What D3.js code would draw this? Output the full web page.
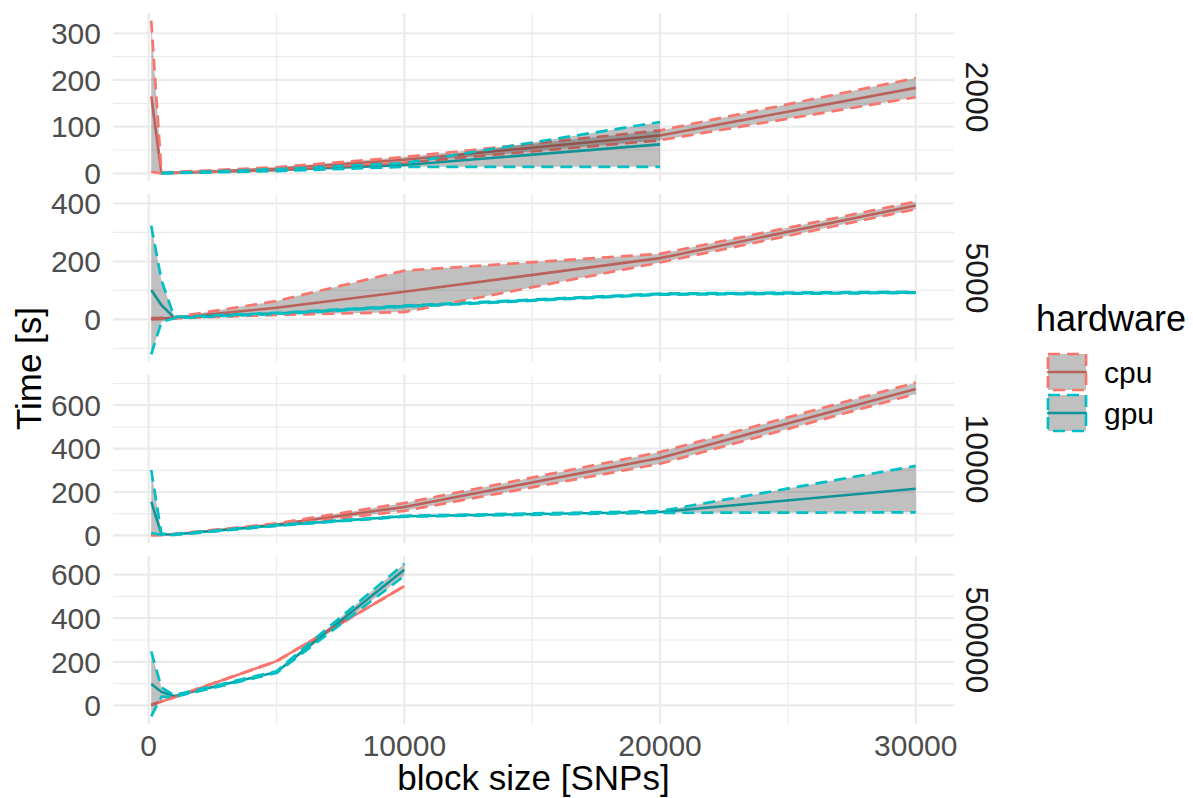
<!DOCTYPE html>
<html><head><meta charset="utf-8">
<script src="https://cdn.jsdelivr.net/npm/d3@7"></script>
<style>body{margin:0;background:#fff} svg{display:block} text{font-family:"Liberation Sans",Arial,Helvetica,sans-serif}</style>
</head><body>
<svg id="chart" width="1193" height="798"></svg>
<script>
// ---------------- data ----------------
const panelLabels = ["2000", "5000", "10000", "500000"];
const hardwareLevels = ["cpu", "gpu"];
const hwColors = ["#F8766D", "#00BFC4"];

const xTicks = [0, 10000, 20000, 30000];
const xMinorTicks = [5000, 15000, 25000];
const yTicks2000 = [0, 100, 200, 300];
const yTicks5000 = [0, 200, 400];
const yTicks10000 = [0, 200, 400, 600];
const yTicks500000 = [0, 200, 400, 600];

// panel 2000
const cpu2000_x    = [100, 500, 1000, 5000, 10000, 20000, 30000];
const cpu2000_mean = [165, 1, 2, 10, 29, 81, 183];
const cpu2000_lo   = [3, 0, 1, 7, 23, 71, 163];
const cpu2000_hi   = [327, 2, 3, 13, 35, 92, 204];
const gpu2000_x    = [500, 1000, 5000, 10000, 20000];
const gpu2000_mean = [0.5, 1, 7, 18, 62];
const gpu2000_lo   = [0, 0.5, 5, 14, 14];
const gpu2000_hi   = [1, 1.5, 9, 22, 110];

// panel 5000
const cpu5000_x    = [100, 500, 1000, 5000, 10000, 20000, 30000];
const cpu5000_mean = [2, 3, 5, 40, 95, 211, 393];
const cpu5000_lo   = [0, 1, 3, 15, 25, 196, 380];
const cpu5000_hi   = [4, 5, 7, 63, 168, 226, 406];
const gpu5000_x    = [100, 500, 1000, 5000, 10000, 20000, 30000];
const gpu5000_mean = [101, 49, 6, 20, 45, 87, 93];
const gpu5000_lo   = [-121, -9, 4, 18, 43, 85, 91];
const gpu5000_hi   = [323, 135, 8, 22, 47, 89, 95];

// panel 10000
const cpu10000_x    = [100, 500, 1000, 5000, 10000, 20000, 30000];
const cpu10000_mean = [2, 3, 5, 50, 131, 357, 675];
const cpu10000_lo   = [0, 1, 3, 45, 113, 330, 652];
const cpu10000_hi   = [4, 5, 7, 55, 149, 384, 704];
const gpu10000_x    = [100, 500, 1000, 5000, 10000, 20000, 30000];
const gpu10000_mean = [155, 5, 4, 46, 88, 108, 215];
const gpu10000_lo   = [10, 3, 2, 44, 86, 104, 106];
const gpu10000_hi   = [302, 7, 6, 48, 90, 112, 320];

// panel 500000
const cpu500000_x    = [100, 500, 1000, 5000, 10000];
const cpu500000_mean = [2, 18, 38, 203, 547];
const cpu500000_lo   = [2, 18, 38, 203, 547];
const cpu500000_hi   = [2, 18, 38, 203, 547];
const gpu500000_x    = [100, 500, 1000, 5000, 10000];
const gpu500000_mean = [98, 62, 43, 153, 622];
const gpu500000_lo   = [-50, 40, 39, 149, 594];
const gpu500000_hi   = [248, 82, 47, 157, 650];

// ---------------- build table ----------------
function series(xs, m, lo, hi) { return xs.map((x, i) => ({x: x, m: m[i], lo: lo[i], hi: hi[i]})); }
const panels = [
  {label: panelLabels[0], ticks: yTicks2000, s: [series(cpu2000_x, cpu2000_mean, cpu2000_lo, cpu2000_hi), series(gpu2000_x, gpu2000_mean, gpu2000_lo, gpu2000_hi)]},
  {label: panelLabels[1], ticks: yTicks5000, s: [series(cpu5000_x, cpu5000_mean, cpu5000_lo, cpu5000_hi), series(gpu5000_x, gpu5000_mean, gpu5000_lo, gpu5000_hi)]},
  {label: panelLabels[2], ticks: yTicks10000, s: [series(cpu10000_x, cpu10000_mean, cpu10000_lo, cpu10000_hi), series(gpu10000_x, gpu10000_mean, gpu10000_lo, gpu10000_hi)]},
  {label: panelLabels[3], ticks: yTicks500000, s: [series(cpu500000_x, cpu500000_mean, cpu500000_lo, cpu500000_hi), series(gpu500000_x, gpu500000_mean, gpu500000_lo, gpu500000_hi)]}
];

// ---------------- layout ----------------
const L = 113, R = 954, T0 = 13, PH = 168, GAP = 13;
const svg = d3.select("#chart");
const gridCol = "#EBEBEB";
const ribbonFill = "#333333", ribbonAlpha = 0.31;
const dash = "12,7";
const tickFont = 30, stripFont = 32, titleFont = 35;

function expand(ext) { const r = ext[1] - ext[0]; return [ext[0] - 0.05 * r, ext[1] + 0.05 * r]; }
const allX = panels.flatMap(p => p.s.flatMap(s => s.map(d => d.x)));
const x = d3.scaleLinear().domain(expand(d3.extent(allX))).range([L, R]);

const defs = svg.append("defs");

panels.forEach((p, i) => {
  const top = T0 + i * (PH + GAP), bot = top + PH;
  const vals = p.s.flatMap(s => s.flatMap(d => [d.lo, d.hi, d.m]));
  const y = d3.scaleLinear().domain(expand(d3.extent(vals))).range([bot, top]);
  const g = svg.append("g");
  defs.append("clipPath").attr("id", "clip" + i).append("rect")
    .attr("x", L).attr("y", top).attr("width", R - L).attr("height", PH);

  // minor grid
  const step = p.ticks[1] - p.ticks[0];
  const minorY = [p.ticks[0] - step / 2, ...p.ticks.map(t => t + step / 2)]
    .filter(v => v >= y.domain()[0] && v <= y.domain()[1]);
  g.selectAll(".ymin").data(minorY).enter().append("line")
    .attr("x1", L).attr("x2", R).attr("y1", d => y(d)).attr("y2", d => y(d))
    .attr("stroke", gridCol).attr("stroke-width", 1.2);
  g.selectAll(".xmin").data(xMinorTicks).enter().append("line")
    .attr("x1", d => x(d)).attr("x2", d => x(d)).attr("y1", top).attr("y2", bot)
    .attr("stroke", gridCol).attr("stroke-width", 1.2);
  // major grid
  g.selectAll(".ymaj").data(p.ticks).enter().append("line")
    .attr("x1", L).attr("x2", R).attr("y1", d => y(d)).attr("y2", d => y(d))
    .attr("stroke", gridCol).attr("stroke-width", 2.2);
  g.selectAll(".xmaj").data(xTicks).enter().append("line")
    .attr("x1", d => x(d)).attr("x2", d => x(d)).attr("y1", top).attr("y2", bot)
    .attr("stroke", gridCol).attr("stroke-width", 2.2);

  // y axis labels
  g.selectAll(".ylab").data(p.ticks).enter().append("text")
    .attr("x", 101).attr("y", d => y(d)).attr("dy", "0.36em")
    .attr("text-anchor", "end").attr("font-size", tickFont).attr("fill", "#4D4D4D")
    .text(d => d);

  // strip label
  const cy = (top + bot) / 2;
  g.append("text").attr("transform", `translate(966,${cy}) rotate(90)`)
    .attr("text-anchor", "middle").attr("font-size", stripFont).attr("fill", "#1A1A1A")
    .text(p.label);

  const pg = g.append("g").attr("clip-path", `url(#clip${i})`);
  const line = (acc) => d3.line().x(d => x(d.x)).y(d => y(acc(d)));
  // lines first (drawn under ribbons)
  p.s.forEach((s, k) => {
    pg.append("path").attr("d", line(d => d.m)(s)).attr("fill", "none")
      .attr("stroke", hwColors[k]).attr("stroke-width", 2.6);
  });
  // ribbons
  p.s.forEach((s, k) => {
    pg.append("path").attr("d", d3.area().x(d => x(d.x)).y0(d => y(d.lo)).y1(d => y(d.hi))(s))
      .attr("fill", ribbonFill).attr("fill-opacity", ribbonAlpha).attr("stroke", "none");
    ["hi", "lo"].forEach(key => {
      pg.append("path").attr("d", line(d => d[key])(s)).attr("fill", "none")
        .attr("stroke", hwColors[k]).attr("stroke-width", 2.7).attr("stroke-dasharray", dash);
    });
  });
});

// x axis labels
svg.selectAll(".xlab").data(xTicks).enter().append("text")
  .attr("x", d => x(d)).attr("y", 756).attr("text-anchor", "middle")
  .attr("font-size", tickFont).attr("fill", "#4D4D4D").text(d => d);

// axis titles
svg.append("text").attr("x", (L + R) / 2).attr("y", 790).attr("text-anchor", "middle")
  .attr("font-size", titleFont).attr("fill", "#000").text("block size [SNPs]");
svg.append("text").attr("transform", `translate(41,${(T0 + 4 * PH + 3 * GAP + T0) / 2}) rotate(-90)`)
  .attr("text-anchor", "middle").attr("font-size", titleFont).attr("fill", "#000").text("Time [s]");

// legend
const lg = svg.append("g");
lg.append("text").attr("x", 1036).attr("y", 331).attr("font-size", titleFont + 1).attr("fill", "#000").text("hardware");
hardwareLevels.forEach((h, k) => {
  const ky = 353 + k * 41;
  lg.append("line").attr("x1", 1047).attr("x2", 1087).attr("y1", ky + 19).attr("y2", ky + 19)
    .attr("stroke", hwColors[k]).attr("stroke-width", 2.6);
  lg.append("rect").attr("x", 1048).attr("y", ky + 1).attr("width", 38).attr("height", 36)
    .attr("fill", ribbonFill).attr("fill-opacity", ribbonAlpha)
    .attr("stroke", hwColors[k]).attr("stroke-width", 2.7).attr("stroke-dasharray", dash);
  lg.append("text").attr("x", 1104).attr("y", ky + 19).attr("dy", "0.36em")
    .attr("font-size", tickFont).attr("fill", "#000").text(h);
});
</script>
</body></html>
